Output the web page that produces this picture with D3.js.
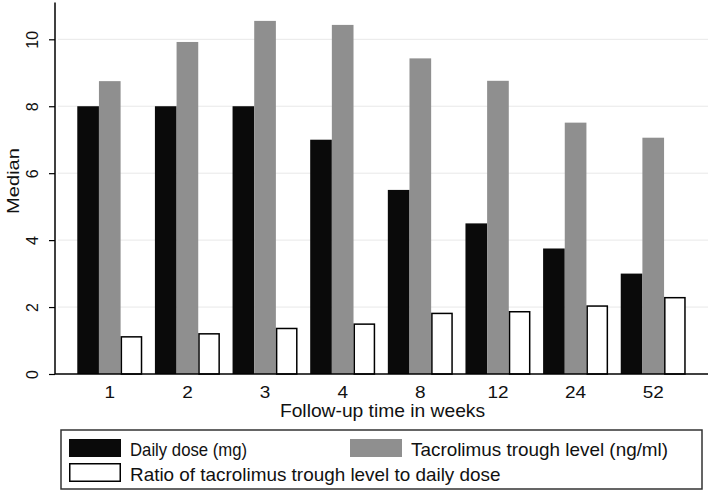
<!DOCTYPE html>
<html>
<head>
<meta charset="utf-8">
<script src="https://cdn.jsdelivr.net/npm/d3@7"></script>
<style>
  body { margin: 0; background: #fff; }
  text { font-family: "Liberation Sans", Arial, sans-serif; fill: #111; }
</style>
</head>
<body>
<script>
// data
const weeks = ['1', '2', '3', '4', '8', '12', '24', '52'];
const dailyDose = [8, 8, 8, 7, 5.5, 4.5, 3.75, 3];
const troughLevel = [8.75, 9.92, 10.55, 10.43, 9.43, 8.76, 7.51, 7.06];
const ratio = [1.11, 1.2, 1.36, 1.49, 1.81, 1.86, 2.03, 2.28];
const yTicks = [0, 2, 4, 6, 8, 10];

const seriesNames = [
  'Daily dose (mg)',
  'Tacrolimus trough level (ng/ml)',
  'Ratio of tacrolimus trough level to daily dose'
];
const seriesFill = ['#0a0a0a', '#8f8f8f', '#ffffff'];

const width = 713, height = 492;
const left = 55, right = 708, bottom = 374;
const stretch = 1.1; // the original text is a bit wider than Liberation Sans

const svg = d3.select('body').append('svg')
  .attr('width', width)
  .attr('height', height);

const x0 = d3.scaleBand()
  .domain(weeks)
  .range([left, right])
  .paddingInner(0.163)
  .paddingOuter(0.287);

const x1 = d3.scaleBand()
  .domain([0, 1, 2])
  .range([0, x0.bandwidth()]);

const y = d3.scaleLinear()
  .domain([0, 11.1])
  .range([bottom, bottom - 11.1 * 33.47]);

// gridlines
svg.append('g')
  .selectAll('line')
  .data(yTicks.filter(d => d > 0))
  .enter().append('line')
  .attr('x1', left + 3)
  .attr('x2', right)
  .attr('y1', d => y(d))
  .attr('y2', d => y(d))
  .attr('stroke', '#e8e8e8')
  .attr('stroke-width', 1);

// bars
const rows = weeks.map((w, i) => ({ w: w, v: [dailyDose[i], troughLevel[i], ratio[i]] }));

const groups = svg.selectAll('.grp')
  .data(rows).enter()
  .append('g')
  .attr('class', 'grp')
  .attr('transform', d => `translate(${x0(d.w)},0)`);

groups.selectAll('rect')
  .data(d => d.v.map((v, k) => ({ k: k, v: v })))
  .enter().append('rect')
  .attr('x', d => x1(d.k) + (d.k === 2 ? 0.75 : 0))
  .attr('y', d => y(d.v))
  .attr('width', d => x1.bandwidth() - (d.k === 2 ? 1.5 : 0))
  .attr('height', d => y(0) - y(d.v))
  .attr('fill', d => seriesFill[d.k])
  .attr('stroke', d => d.k === 2 ? '#000' : 'none')
  .attr('stroke-width', 1.5);

// y axis
const yAxis = svg.append('g')
  .attr('transform', `translate(${left},0)`)
  .call(d3.axisLeft(y).tickValues(yTicks).tickSize(6).tickFormat(d3.format('d')));
yAxis.select('.domain').attr('stroke', '#000').attr('stroke-width', 1.5).attr('d', `M0,${y(0)}V${y(11.1)}`);
yAxis.selectAll('.tick line').attr('stroke', '#000').attr('stroke-width', 1.2);
yAxis.selectAll('.tick text')
  .attr('x', 0)
  .attr('y', 0)
  .attr('dy', '0.35em')
  .attr('transform', 'translate(-23,0) rotate(-90)')
  .attr('text-anchor', 'middle')
  .style('font-size', '16px')
  .style('font-family', '"Liberation Sans", Arial, sans-serif')
  .attr('fill', '#111');

// x axis
svg.append('line')
  .attr('x1', left)
  .attr('x2', right)
  .attr('y1', bottom)
  .attr('y2', bottom)
  .attr('stroke', '#000')
  .attr('stroke-width', 1.5);

svg.append('g')
  .selectAll('text')
  .data(weeks)
  .enter().append('text')
  .attr('transform', d => `translate(${x0(d) + x0.bandwidth() / 2},398) scale(1.15,1)`)
  .attr('text-anchor', 'middle')
  .style('font-size', '16.5px')
  .text(d => d);

svg.append('text')
  .attr('transform', `translate(${(left + right) / 2 + 1},417) scale(${stretch},1)`)
  .attr('text-anchor', 'middle')
  .style('font-size', '17.5px')
  .text('Follow-up time in weeks');

svg.append('text')
  .attr('transform', 'translate(19,181) rotate(-90)')
  .attr('text-anchor', 'middle')
  .attr('textLength', 66)
  .attr('lengthAdjust', 'spacingAndGlyphs')
  .style('font-size', '17px')
  .text('Median');

// legend
const legend = svg.append('g');
legend.append('rect')
  .attr('x', 61)
  .attr('y', 430)
  .attr('width', 641)
  .attr('height', 59)
  .attr('fill', '#fff')
  .attr('stroke', '#333')
  .attr('stroke-width', 1.5);

const legendPos = [[69, 439], [350, 439], [69, 463]];
const legendScale = [0.93, 1.05, 1.05];
const items = legend.selectAll('.item')
  .data(seriesNames).enter()
  .append('g')
  .attr('class', 'item')
  .attr('transform', (d, i) => `translate(${legendPos[i][0]},${legendPos[i][1]})`);

items.append('rect')
  .attr('x', (d, i) => i === 2 ? 0.75 : 0)
  .attr('y', (d, i) => i === 2 ? 0.75 : 0)
  .attr('width', (d, i) => i === 2 ? 50.5 : 52)
  .attr('height', (d, i) => i === 2 ? 17.5 : 18)
  .attr('fill', (d, i) => seriesFill[i])
  .attr('stroke', (d, i) => i === 2 ? '#000' : 'none')
  .attr('stroke-width', 1.5);

items.append('text')
  .attr('transform', (d, i) => `translate(61,${i === 2 ? 17.5 : 17}) scale(${legendScale[i]},1)`)
  .style('font-size', '18px')
  .text(d => d);
</script>
</body>
</html>
